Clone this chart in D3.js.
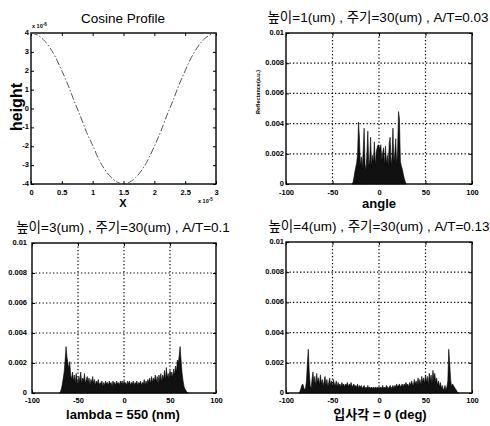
<!DOCTYPE html>
<html>
<head>
<meta charset="utf-8">
<script src="https://cdn.jsdelivr.net/npm/d3@7"></script>
<style>
  html, body { margin: 0; padding: 0; background: #fff; }
  svg { display: block; }
  .tick text { font-family: "Liberation Sans Narrow", "Liberation Sans", Arial, sans-serif; font-weight: bold; font-size: 7.5px; fill: #000; }
</style>
</head>
<body>
<svg id="chart" width="490" height="426"></svg>
<script>
// ---------------- DATA ----------------
// Panel 1: cosine profile (x in units of 1e-5, height in units of 1e-6)
const profileX = [0, 0.1, 0.2, 0.3, 0.4, 0.5, 0.6, 0.7, 0.8, 0.9, 1.0, 1.1, 1.2, 1.3, 1.4, 1.5,
                  1.6, 1.7, 1.8, 1.9, 2.0, 2.1, 2.2, 2.3, 2.4, 2.5, 2.6, 2.7, 2.8, 2.9, 3.0];
const profileH = [4.0, 3.9, 3.65, 3.25, 2.7, 2.0, 1.25, 0.4, -0.4, -1.25, -1.95, -2.7, -3.25, -3.65, -3.9, -4.0,
                  -3.9, -3.65, -3.25, -2.7, -2.0, -1.25, -0.4, 0.4, 1.25, 2.0, 2.7, 3.25, 3.65, 3.9, 4.0];
const profileXTicks = [0, 0.5, 1, 1.5, 2, 2.5, 3];
const profileXTickLabels = ["0", "0.5", "1", "1.5", "2", "2.5", "3"];
const profileYTicks = [-4, -3, -2, -1, 0, 1, 2, 3, 4];
const profileYTickLabels = ["-4", "-3", "-2", "-1", "0", "1", "2", "3", "4"];

const angleTicks = [-100, -50, 0, 50, 100];
const angleTickLabels = ["-100", "-50", "0", "50", "100"];
const reflTicks = [0, 0.002, 0.004, 0.006, 0.008, 0.01];
const reflTickLabels = ["0", "0.002", "0.004", "0.006", "0.008", "0.01"];
const reflUnit = 1e-4;

// Panel 2: height 1um, angles -29..29
const angle2Start = -29;
const refl2 = [0, 1, 4, 8, 11, 14, 20, 41, 30, 12, 18, 10, 22, 37, 13, 9, 20, 35, 12, 16, 31, 11, 19, 14, 28, 12, 21, 24, 26,
               25, 23, 26, 15, 21, 24, 12, 25, 13, 19, 11, 27, 31, 12, 18, 37, 14, 20, 30, 12, 22, 48, 43, 15, 12, 10, 7, 4, 2, 0];

// Panel 3: height 3um, angles -70..70
const angle3Start = -70;
const refl3 = [0, 1, 3, 6, 10, 14, 22, 31, 24, 20, 16, 21, 12, 9, 14, 8, 12, 6, 13, 9, 5, 11, 7, 14, 6, 10, 8, 13, 6, 9,
               11, 7, 10, 5, 9, 7, 11, 6, 9, 5, 8, 6, 9, 5, 7, 6, 8, 4, 7, 5, 8, 6, 7, 5, 8, 6, 7, 4, 8, 6,
               7, 5, 8, 6, 7, 5, 8, 6, 8, 5, 8, 6, 7, 5, 8, 6, 8, 5, 7, 6, 8, 5, 7, 6, 8, 5, 7, 6, 8, 5,
               7, 6, 9, 5, 8, 6, 9, 7, 10, 6, 11, 7, 10, 8, 12, 7, 11, 6, 12, 8, 13, 7, 12, 9, 15, 8, 17, 10, 13, 9,
               15, 11, 14, 10, 16, 12, 18, 14, 22, 20, 25, 31, 22, 14, 9, 5, 3, 2, 1, 0, 0];

// Panel 4: height 4um, angles -86..86
const angle4Start = -86;
const refl4 = [0, 1, 3, 5, 6, 4, 2, 3, 8, 20, 29, 14, 5, 3, 9, 14, 6, 11, 4, 13, 7, 10, 5, 12, 6, 9, 4, 8, 11, 5,
               9, 4, 7, 10, 5, 8, 4, 9, 6, 5, 8, 4, 7, 5, 6, 4, 7, 5, 6, 4, 6, 5, 7, 4, 6, 5, 7, 4, 5, 6,
               4, 5, 4, 6, 3, 5, 4, 5, 3, 4, 5, 3, 4, 3, 5, 3, 4, 3, 4, 3, 4, 3, 4, 3, 4, 3, 4, 3, 4, 3,
               5, 3, 4, 3, 5, 4, 3, 4, 5, 3, 4, 5, 3, 5, 4, 6, 4, 5, 6, 4, 5, 6, 4, 6, 5, 7, 5, 6, 4, 7,
               5, 8, 6, 5, 9, 6, 8, 5, 10, 6, 9, 5, 11, 7, 10, 6, 12, 7, 11, 5, 13, 8, 12, 6, 15, 9, 13, 7, 10, 5,
               8, 4, 7, 3, 5, 2, 3, 5, 2, 4, 8, 29, 20, 9, 4, 6, 5, 4, 3, 2, 1, 0, 0];

const titles = ["Cosine Profile",
                "높이=1(um) , 주기=30(um) , A/T=0.03",
                "높이=3(um) , 주기=30(um) , A/T=0.1",
                "높이=4(um) , 주기=30(um) , A/T=0.13"];
const xLabels = ["X", "angle", "lambda = 550 (nm)", "입사각 = 0 (deg)"];
const yLabels = ["height", "Reflectance(a.u.)", "", ""];

// ---------------- DRAW ----------------
const svg = d3.select("#chart");
const FONT = '"Liberation Sans", Arial, "Noto Sans CJK KR", sans-serif';

const boxes = [
  {l: 31, t: 33, r: 216, b: 184, yPad: 2, xPad: 5.5},
  {l: 286, t: 33, r: 472, b: 184, yPad: 2, xPad: 5.5},
  {l: 32, t: 243, r: 216, b: 393, yPad: 5, xPad: 5},
  {l: 286, t: 242, r: 472, b: 393, yPad: 2, xPad: 5}
];

function drawAxes(g, box, x, y, xt, xtl, yt, ytl, grid) {
  const w = box.r - box.l, h = box.b - box.t;
  if (grid) {
    g.append("g").selectAll("line.gx").data(xt.slice(1, -1)).join("line")
      .attr("x1", d => x(d)).attr("x2", d => x(d)).attr("y1", 0).attr("y2", h)
      .attr("stroke", "#000").attr("stroke-width", 1.2).attr("stroke-dasharray", "1.3,2.2");
    g.append("g").selectAll("line.gy").data(yt.slice(1, -1)).join("line")
      .attr("y1", d => y(d)).attr("y2", d => y(d)).attr("x1", 0).attr("x2", w)
      .attr("stroke", "#000").attr("stroke-width", 1.2).attr("stroke-dasharray", "1.3,2.2");
  }
  g.append("g").attr("transform", `translate(0,${h})`)
    .call(d3.axisBottom(x).tickValues(xt).tickFormat((d, i) => xtl[i]).tickSize(-3).tickPadding(box.xPad));
  const ya = g.append("g")
    .call(d3.axisLeft(y).tickValues(yt).tickFormat((d, i) => ytl[i]).tickSize(-3).tickPadding(box.yPad));
  ya.selectAll(".tick text").attr("dy", "0.2em");
  g.append("g").call(d3.axisTop(x).tickValues(xt).tickFormat("").tickSize(-3));
  g.append("g").attr("transform", `translate(${w},0)`).call(d3.axisRight(y).tickValues(yt).tickFormat("").tickSize(-3));
  g.selectAll(".domain").remove();
  g.selectAll(".tick line").attr("stroke", "#000").attr("stroke-width", 1);
  g.append("rect").attr("x", 0).attr("y", 0).attr("width", w).attr("height", h)
    .attr("fill", "none").attr("stroke", "#000").attr("stroke-width", 1.4);
}

// Panel 1
{
  const box = boxes[0];
  const w = box.r - box.l, h = box.b - box.t;
  const g = svg.append("g").attr("transform", `translate(${box.l},${box.t})`);
  const x = d3.scaleLinear().domain([0, 3]).range([0, w]);
  const y = d3.scaleLinear().domain([-4, 4]).range([h, 0]);
  drawAxes(g, box, x, y, profileXTicks, profileXTickLabels, profileYTicks, profileYTickLabels, false);
  const line = d3.line().x((d, i) => x(profileX[i])).y(d => y(d)).curve(d3.curveMonotoneX);
  g.append("path").datum(profileH).attr("d", line).attr("fill", "none")
    .attr("stroke", "#555").attr("stroke-width", 1).attr("stroke-dasharray", "7,2,1.5,2");
  // exponent labels
  const e1 = svg.append("text").attr("x", box.l + 1).attr("y", box.t - 5)
    .attr("font-family", FONT).attr("font-size", 5.5).attr("font-weight", "bold");
  e1.append("tspan").text("x 10");
  e1.append("tspan").attr("dy", -2).attr("font-size", 4.5).text("-6");
  const e2 = svg.append("text").attr("x", box.r - 18).attr("y", box.b + 19)
    .attr("font-family", FONT).attr("font-size", 5.5).attr("font-weight", "bold");
  e2.append("tspan").text("x 10");
  e2.append("tspan").attr("dy", -2).attr("font-size", 4.5).text("-5");
}

// Reflectance panels
function barPanel(idx, start, vals) {
  const box = boxes[idx];
  const w = box.r - box.l, h = box.b - box.t;
  const g = svg.append("g").attr("transform", `translate(${box.l},${box.t})`);
  const x = d3.scaleLinear().domain([-100, 100]).range([0, w]);
  const y = d3.scaleLinear().domain([0, 0.01]).range([h, 0]);
  const data = vals.map((v, i) => ({a: start + i, r: v * reflUnit}));
  drawAxes(g, box, x, y, angleTicks, angleTickLabels, reflTicks, reflTickLabels, true);
  const area = d3.area().x(d => x(d.a)).y0(h).y1(d => y(d.r)).curve(d3.curveLinear);
  g.append("path").datum(data).attr("d", area).attr("fill", "#111").attr("stroke", "#000").attr("stroke-width", 0.6);
}
barPanel(1, angle2Start, refl2);
barPanel(2, angle3Start, refl3);
barPanel(3, angle4Start, refl4);

// Titles
const titlePos = [[123, 23], [378, 22], [123, 232], [379, 231]];
titles.forEach((t, i) => {
  svg.append("text").attr("x", titlePos[i][0]).attr("y", titlePos[i][1])
    .attr("text-anchor", "middle").attr("font-family", FONT).attr("font-size", 13.5).text(t);
});

// X labels
const xLabelPos = [[123, 207], [379, 208], [123, 419], [380, 419]];
xLabels.forEach((t, i) => {
  svg.append("text").attr("x", xLabelPos[i][0]).attr("y", xLabelPos[i][1])
    .attr("text-anchor", "middle").attr("font-family", FONT).attr("font-weight", "bold")
    .attr("font-size", i === 0 ? 11 : 13).text(t);
});

// Y labels
svg.append("text").attr("transform", "translate(22,107) rotate(-90)")
  .attr("text-anchor", "middle").attr("font-family", FONT).attr("font-weight", "bold")
  .attr("font-size", 16).text(yLabels[0]);
svg.append("text").attr("transform", "translate(260,92) rotate(-90)")
  .attr("text-anchor", "middle").attr("font-family", FONT).attr("font-weight", "bold")
  .attr("font-size", 5.5).text(yLabels[1]);
</script>
</body>
</html>
